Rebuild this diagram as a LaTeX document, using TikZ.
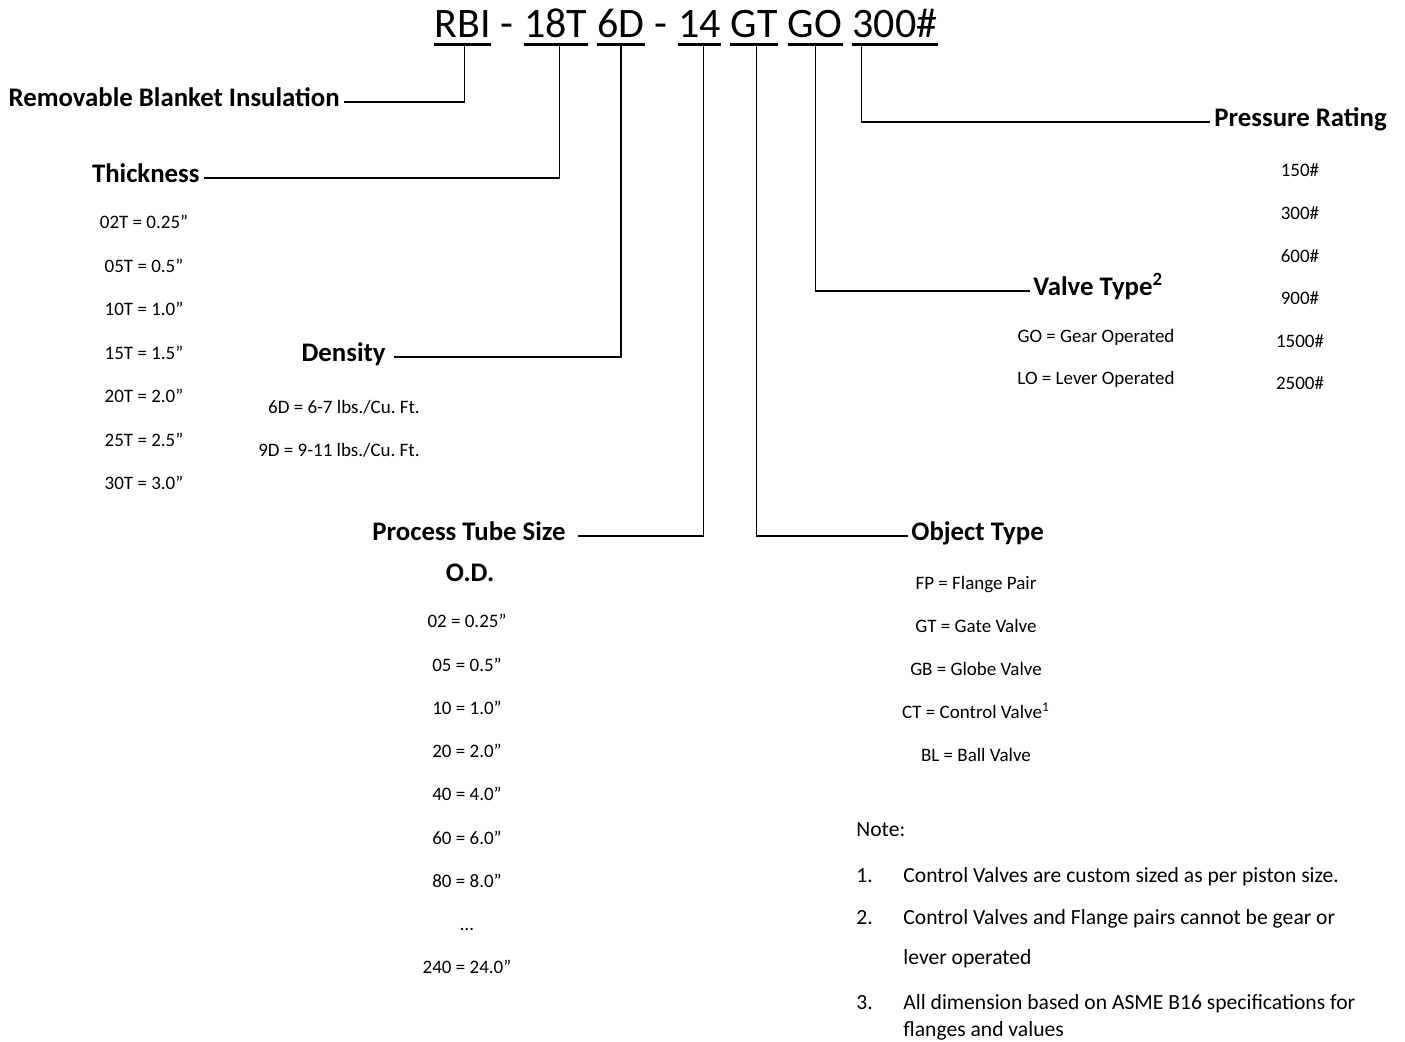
\documentclass[tikz,border=0pt]{standalone}
\usepackage{fontspec}
\setmainfont{Carlito}
\usetikzlibrary{positioning}
\frenchspacing

\tikzset{
	code/.style={inner sep=0pt, font=\fontsize{21}{25}\selectfont, text depth=3pt},
	heading/.style={inner sep=2pt, font=\bfseries\fontsize{13.4}{16}\selectfont, text height=7pt, text depth=2.3pt},
	entry/.style={inner sep=0pt, anchor=base, font=\fontsize{9.5}{12}\selectfont},
	noteline/.style={inner sep=0pt, anchor=base west, font=\fontsize{10.8}{13}\selectfont},
	link/.style={line width=0.6pt},
	uline/.style={line width=1.25pt}
}

\begin{document}
\begin{tikzpicture}[x=0.5pt, y=-0.5pt]
		\useasboundingbox (0,0) rectangle (1405,1042);
		
		\node[code, anchor=base west] (rbi) at (434,38) {RBI};
		\node[code, base right=4.75pt of rbi] (dash1) {-};
		\node[code, base right=4.75pt of dash1] (thk) {18T};
		\node[code, base right=4.75pt of thk] (den) {6D};
		\node[code, base right=4.75pt of den] (dash2) {-};
		\node[code, base right=4.75pt of dash2] (tube) {14};
		\node[code, base right=4.75pt of tube] (obj) {GT};
		\node[code, base right=4.75pt of obj] (valve) {GO};
		\node[code, base right=4.75pt of valve] (pres) {300\#};
		
		\foreach \n in {rbi, thk, den, tube, obj, valve, pres}
			\draw[uline] (\n.south west) -- (\n.south east);
		
		\node[heading, anchor=east] (l-rbi) at (344,102) {Removable Blanket Insulation};
		\node[heading, anchor=east] (l-thk) at (204,178) {Thickness};
		\node[heading, anchor=east, inner xsep=4pt] (l-den) at (394,357) {Density};
		\node[heading, anchor=east, inner xsep=6pt] (l-tube) at (578,536) {Process Tube Size};
		\node[heading] (l-od) at (470,577) {O.D.};
		\node[heading, anchor=west, inner xsep=1.5pt] (l-obj) at (908,536) {Object Type};
		\node[heading, anchor=west, inner xsep=1.5pt] (l-valve) at (1030,291) {Valve Type\textsuperscript{2}};
		\node[heading, anchor=west] (l-pres) at (1210,122) {Pressure Rating};
		
		\draw[link] ([xshift=1pt]rbi.south) |- (l-rbi);
		\draw[link] ([xshift=1.75pt]thk.south) |- (l-thk);
		\draw[link] (den.south) |- (l-den);
		\draw[link] ([xshift=2pt]tube.south) |- (l-tube);
		\draw[link] ([xshift=1pt]obj.south) |- (l-obj);
		\draw[link] (valve.south) |- (l-valve);
		\draw[link] ([xshift=4.5pt]pres.south west) |- (l-pres);
		
		\foreach \txt [count=\i from 0] in {02T = 0.25”, 05T = 0.5”, 10T = 1.0”, 15T = 1.5”, 20T = 2.0”, 25T = 2.5”, 30T = 3.0”}
			\node[entry] (thk-\i) at (144,229+43.5*\i) {\txt};
		
		\node[entry] (den-0) at (344,414) {6D = 6-7 lbs./Cu. Ft.};
		\node[entry] (den-1) at (339,457) {9D = 9-11 lbs./Cu. Ft.};
		
		\foreach \txt [count=\i from 0] in {02 = 0.25”, 05 = 0.5”, 10 = 1.0”, 20 = 2.0”, 40 = 4.0”, 60 = 6.0”, 80 = 8.0”, \ldots, 240 = 24.0”}
			\node[entry] (od-\i) at (467,628+43.25*\i) {\txt};
		
		\foreach \txt [count=\i from 0] in {FP = Flange Pair, GT = Gate Valve, GB = Globe Valve, CT = Control Valve\textsuperscript{1}, BL = Ball Valve}
			\node[entry] (obj-\i) at (976,590+43*\i) {\txt};
		
		\node[entry] (valve-0) at (1096,343) {GO = Gear Operated};
		\node[entry] (valve-1) at (1096,385) {LO = Lever Operated};
		
		\foreach \txt [count=\i from 0] in {150\#, 300\#, 600\#, 900\#, 1500\#, 2500\#}
			\node[entry] (pres-\i) at (1300,177+42.6*\i) {\txt};
		
		\node[noteline] (note) at (856,837) {Note:};
		\foreach \y/\num/\txt in {
			883/1./Control Valves are custom sized as per piston size.,
			925/2./Control Valves and Flange pairs cannot be gear or,
			965//lever operated,
			1010/3./All dimension based on ASME B16 specifications for,
			1037//flanges and values
		}{
			\node[noteline] at (856,\y) {\num};
			\node[noteline] at (903,\y) {\txt};
		}
\end{tikzpicture}
\end{document}
